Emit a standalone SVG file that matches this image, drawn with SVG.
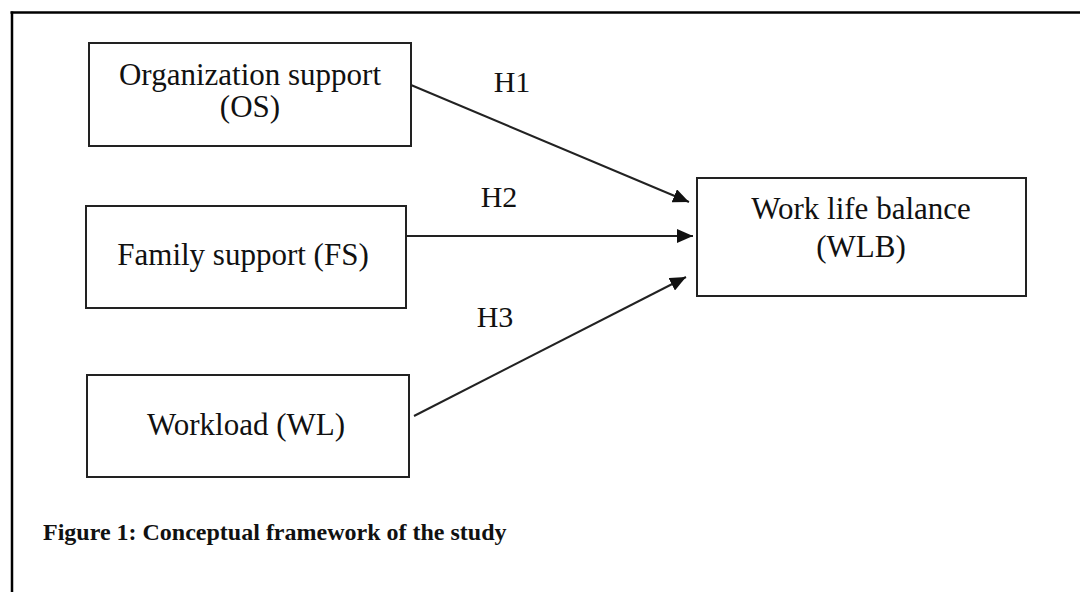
<svg xmlns="http://www.w3.org/2000/svg" width="1080" height="592" viewBox="0 0 1080 592">
<style>
.box{fill:#fff;stroke:#222;stroke-width:2}
.t{font-family:"Liberation Serif","Times New Roman",serif;font-size:31px;fill:#111;text-anchor:middle}
.h{font-family:"Liberation Serif","Times New Roman",serif;font-size:30px;fill:#111;text-anchor:middle}
.edge{stroke:#222;stroke-width:2;fill:none;marker-end:url(#ah)}
.cap{font-family:"Liberation Serif","Times New Roman",serif;font-size:24px;font-weight:bold;fill:#111}
</style>
<defs>
<marker id="ah" markerUnits="userSpaceOnUse" markerWidth="16" markerHeight="14" refX="16" refY="7" orient="auto">
<path d="M0,0 L16,7 L0,14 z" fill="#111"/>
</marker>
</defs>
<rect width="1080" height="592" fill="#fff"/>
<g id="frame" stroke="#000" stroke-width="2.5" fill="none">
<line x1="10.5" y1="12.5" x2="1080" y2="12.5"/>
<line x1="12" y1="11.5" x2="12" y2="592"/>
</g>
<g id="os">
<rect class="box" x="89" y="43" width="322" height="103"/>
<text class="t" x="250" y="85">Organization support</text>
<text class="t" x="250" y="117">(OS)</text>
</g>
<g id="fs">
<rect class="box" x="86" y="206" width="320" height="102"/>
<text class="t" x="243" y="265">Family support (FS)</text>
</g>
<g id="wl">
<rect class="box" x="87" y="375" width="322" height="102"/>
<text class="t" x="246" y="435">Workload (WL)</text>
</g>
<g id="wlb">
<rect class="box" x="697" y="178" width="329" height="118"/>
<text class="t" x="861" y="219">Work life balance</text>
<text class="t" x="861" y="257">(WLB)</text>
</g>
<g id="connectors">
<line class="edge" x1="411" y1="85" x2="689" y2="202"/>
<line class="edge" x1="406" y1="236" x2="693" y2="236"/>
<line class="edge" x1="414" y1="416" x2="686" y2="277"/>
<text class="h" x="512" y="92">H1</text>
<text class="h" x="499" y="207">H2</text>
<text class="h" x="495" y="327">H3</text>
</g>
<text class="cap" x="43" y="540">Figure 1: Conceptual framework of the study</text>
</svg>
